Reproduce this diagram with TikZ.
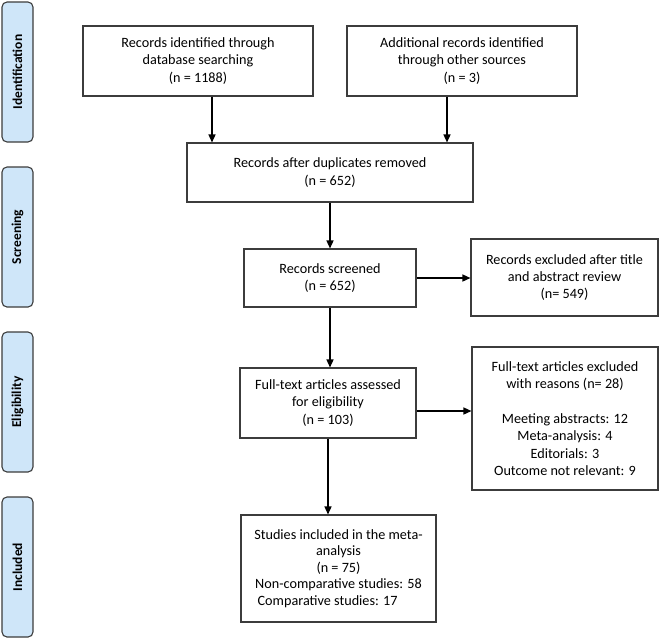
\documentclass[tikz,border=0pt]{standalone}
\usepackage{fontspec}
\setmainfont{Carlito}
\usepackage{calc}
\usetikzlibrary{arrows.meta}
\definecolor{sidefill}{HTML}{CFE6F9}
\definecolor{edgegray}{HTML}{3C3C3C}
\begin{document}
\begin{tikzpicture}[x=1pt,y=-1pt,
  box/.style={draw=edgegray,line width=1.1pt,rectangle,inner sep=0pt,align=center,
    font=\fontsize{14.2}{17.4}\selectfont},
  side/.style={draw=edgegray,line width=1.1pt,fill=sidefill,rounded corners=5pt,rectangle,
    rotate=90,minimum width=140pt,minimum height=31pt,inner sep=0pt,
    font=\fontsize{13.5}{15}\selectfont\bfseries},
  arr/.style={draw=black,line width=1.4pt,-{Triangle[length=8pt,width=7pt]}}]
\useasboundingbox (0,0) rectangle (660,638);
% side labels
\node[side] (s1) at (17.5,72) {Identification};
\node[side] (s2) at (17.5,237) {Screening};
\node[side] (s3) at (17.5,402) {Eligibility};
\node[side] (s4) at (17.5,567) {Included};
% boxes
\node[box,minimum width=230pt,minimum height=70pt] (b1) at (198,61)
  {Records identified through\\database searching\\(n = 1188)};
\node[box,minimum width=230pt,minimum height=70pt] (b2) at (462,61)
  {Additional records identified\\through other sources\\(n = 3)};
\node[box,minimum width=286pt,minimum height=59pt] (b3) at (330,172.5)
  {Records after duplicates removed\\(n = 652)};
\node[box,minimum width=172pt,minimum height=58pt] (b4) at (330,278)
  {Records screened\\(n = 652)};
\node[box,minimum width=187pt,minimum height=77pt] (b5) at (564.5,277.5)
  {Records excluded after title\\and abstract review\\(n= 549)};
\node[box,minimum width=176pt,minimum height=70pt] (b6) at (328,403)
  {Full-text articles assessed\\for eligibility\\(n = 103)};
\node[box,minimum width=186pt,minimum height=143pt] (b7) at (565,418.5)
  {Full-text articles excluded\\with reasons (n= 28)\\[17.4pt]Meeting abstracts: 12\\Meta-analysis: 4\\Editorials: 3\\Outcome not relevant: 9};
\node[box,minimum width=195pt,minimum height=107pt,font=\fontsize{14.2}{16.4}\selectfont] (b8) at (338.5,568.5)
  {Studies included in the meta-\\analysis\\(n = 75)\\Non-comparative studies: 58\\\makebox[\widthof{Non-comparative studies: 58}][l]{\hspace{2.5pt}Comparative studies: 17}};
% connectors
\draw[arr] ([xshift=14pt]b1.south) -- ([xshift=14pt]b1.south |- b3.north);
\draw[arr] ([xshift=-15pt]b2.south) -- ([xshift=-15pt]b2.south |- b3.north);
\draw[arr] (b3.south) -- (b4.north);
\draw[arr] (b4.east) -- (b4.east -| b5.west);
\draw[arr] (b4.south) -- (b4.south |- b6.north);
\draw[arr] ([yshift=-8pt]b6.east) -- ([yshift=-8pt]b6.east -| b7.west);
\draw[arr] (b6.south) -- (b6.south |- b8.north);
\end{tikzpicture}
\end{document}
